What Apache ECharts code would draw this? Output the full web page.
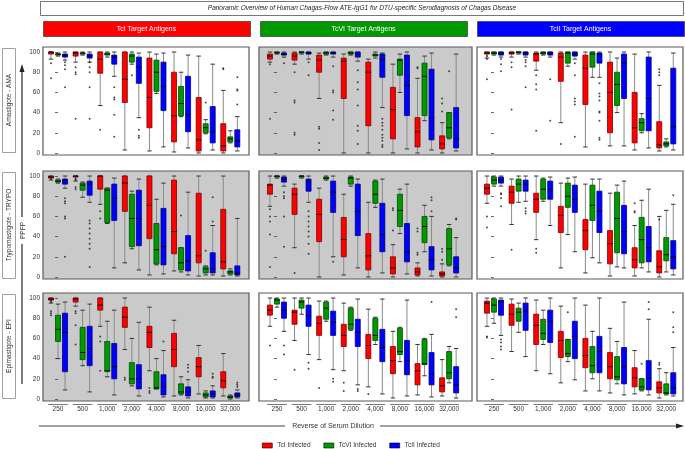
<!DOCTYPE html>
<html><head><meta charset="utf-8">
<script src="https://cdn.jsdelivr.net/npm/echarts@6/dist/echarts.min.js"></script>
<style>html,body{margin:0;padding:0;background:#fff}#c{width:685px;height:449px}</style>
</head><body><div id="c"></div>
<script>
const dilutions = ['250','500','1,000','2,000','4,000','8,000','16,000','32,000'];
const rowLabels = ['Amastigote - AMA','Trypomastigote - TRYPO','Epimastigote - EPI'];
const targetLabels = ['TcI Target Antigens','TcVI Target Antigens','TcII Target Antigens'];
const infected = ['TcI Infected','TcVI Infected','TcII Infected'];
const yTicks = [0,20,40,60,80,100];

// boxes: [min, Q1, median, Q3, max] per dilution
const ama_tcI_red   = [[93,98,100,100,100],[90,96,99,100,100],[47,79,93,100,100],[3,50,73,100,100],[2,25,55,94,100],[1,11,37,80,100],[0,2,13,55,96],[0,2,7,29,62]];
const ama_tcI_green = [[96,97,98,98,99],[97,98,99,99,100],[95,97,98,99,100],[88,90,96,98,100],[59,61,80,92,98],[36,37,49,66,80],[19,20,25,29,33],[10,11,14,16,22]];
const ama_tcI_blue  = [[92,95,97,98,100],[90,94,96,98,100],[76,88,95,97,100],[35,69,85,95,99],[6,42,66,90,99],[5,21,38,76,97],[3,10,21,46,88],[2,6,12,23,36]];
const ama_tcI_out   = [[0,0,89],[0,0,74],[2,0,90],[2,0,87],[2,0,83],[2,0,65],[0,1,85],[0,1,80],[0,1,78],[0,1,34],[2,1,90],[2,1,85],[2,1,80],[2,1,65],[2,1,34],[0,2,23],[2,2,65],[2,2,55],[2,2,53],[2,2,38],[2,2,16],[1,3,77],[2,3,23],[2,3,17],[2,3,15],[1,6,50],[0,7,84],[0,7,83],[2,7,75],[2,7,63],[2,7,62],[2,7,48]];

const ama_tcVI_red   = [[90,93,96,98,100],[88,92,96,99,100],[54,80,92,97,99],[0,54,91,94,98],[0,27,80,90,93],[0,14,43,65,88],[0,6,21,35,74],[0,4,9,17,30]];
const ama_tcVI_green = [[98,99,99,100,100],[98,99,100,100,100],[97,98,99,100,100],[97,98,99,100,100],[94,96,97,98,100],[60,77,92,93,98],[32,37,76,89,96],[14,15,25,40,40]];
const ama_tcVI_blue  = [[95,97,98,99,100],[93,98,99,100,100],[95,98,99,100,100],[91,95,98,100,100],[45,75,93,98,99],[4,37,67,97,100],[3,13,35,83,99],[2,5,14,45,98]];
const ama_tcVI_out   = [[0,0,88],[0,0,34],[2,0,89],[0,1,80],[0,1,52],[0,1,50],[0,1,20],[0,1,18],[2,1,90],[2,1,77],[0,2,26],[0,2,24],[0,2,10],[0,2,3],[2,2,86],[2,2,62],[2,2,60],[2,2,42],[2,2,33],[2,3,82],[2,3,70],[2,3,63],[2,3,47],[2,3,27],[2,3,22],[2,3,9],[2,4,34],[2,4,30],[2,4,27],[2,4,23],[2,4,18],[2,4,15],[2,4,12],[2,4,8],[2,4,6],[0,6,85],[0,6,84],[0,7,54],[0,7,49],[0,7,41],[1,7,81]];

const ama_tcII_red   = [[94,98,99,100,100],[95,98,99,100,100],[82,91,98,99,100],[30,71,95,99,100],[6,48,84,97,100],[7,20,60,90,100],[3,10,25,60,98],[2,5,8,31,67]];
const ama_tcII_green = [[97,98,99,100,100],[98,99,100,100,100],[97,98,99,100,100],[86,89,99,100,100],[75,85,98,100,100],[40,47,68,80,94],[20,22,30,34,39],[6,7,9,11,14]];
const ama_tcII_blue  = [[95,97,99,100,100],[95,97,99,100,100],[95,97,99,100,100],[93,96,98,100,100],[75,89,98,99,100],[7,54,89,98,100],[5,22,54,95,100],[3,9,26,84,99]];
const ama_tcII_out   = [[0,0,96],[0,0,93],[0,0,73],[2,0,93],[2,0,88],[2,0,81],[0,1,90],[0,1,85],[0,1,43],[2,1,92],[2,1,90],[2,1,86],[2,1,65],[0,2,77],[0,2,68],[0,2,63],[0,2,22],[2,2,73],[2,2,32],[0,3,9],[2,3,89],[2,3,77],[2,3,54],[2,3,51],[2,3,48],[2,3,16],[2,4,69],[2,4,59],[2,4,56],[2,4,52],[2,4,41],[2,4,40],[2,4,32],[2,4,15],[2,4,13],[0,7,83],[0,7,80],[0,7,77]];

const try_tcI_red   = [[96,98,99,100,100],[95,99,100,100,100],[72,87,100,100,100],[14,65,93,100,100],[2,38,71,100,100],[6,23,45,96,100],[1,14,21,83,100],[1,8,15,67,100]];
const try_tcI_green = [[93,94,95,96,97],[79,86,91,93,94],[53,54,86,88,88],[28,30,58,82,85],[12,13,27,53,77],[5,7,14,29,29],[2,4,8,10,11],[2,3,5,6,8]];
const try_tcI_blue  = [[88,92,96,97,100],[74,81,92,95,100],[9,56,78,92,98],[7,31,58,86,97],[3,12,30,68,93],[2,6,16,41,84],[2,4,8,24,51],[1,2,4,11,58]];
const try_tcI_out   = [[0,0,97],[2,0,78],[2,0,75],[2,0,73],[2,0,60],[2,0,58],[2,0,20],[0,1,97],[0,1,96],[0,1,89],[0,1,87],[2,1,56],[2,1,53],[2,1,48],[2,1,43],[2,1,38],[2,1,33],[2,1,28],[2,1,10],[0,2,65],[0,2,58],[1,5,61],[1,6,26],[2,6,79],[2,6,55]];

const try_tcVI_red   = [[70,82,91,92,100],[29,62,82,88,92],[0,35,62,77,88],[2,20,37,59,82],[0,7,21,43,74],[0,3,9,20,32],[1,2,5,9,14],[0,1,3,5,13]];
const try_tcVI_green = [[98,99,100,100,100],[98,99,100,100,100],[96,97,98,99,100],[90,92,98,99,100],[69,73,82,95,96],[43,50,66,82,87],[25,34,50,60,71],[11,12,28,48,52]];
const try_tcVI_blue  = [[90,94,97,99,100],[74,85,94,97,100],[20,64,84,95,100],[9,41,65,92,97],[4,25,42,73,97],[3,15,25,53,92],[1,7,17,30,60],[0,4,9,20,39]];
const try_tcVI_out   = [[0,0,67],[0,0,60],[0,0,55],[0,0,42],[0,0,10],[2,0,84],[2,0,80],[2,0,78],[2,0,60],[2,0,30],[0,1,4],[2,1,65],[2,1,60],[2,1,55],[2,1,50],[2,1,45],[2,1,40],[2,1,33],[2,1,23],[2,2,15],[0,5,68],[0,5,66],[0,5,46],[0,6,48],[0,6,45],[0,6,24],[0,6,22],[2,6,79],[2,6,76],[2,6,65],[0,7,28],[0,7,25],[0,7,17],[2,7,58],[2,7,57]];

const try_tcII_red   = [[73,82,88,92,100],[52,73,84,90,97],[37,64,77,83,100],[9,44,61,70,93],[4,27,46,57,92],[1,13,33,46,83],[1,9,17,29,51],[0,4,10,26,60]];
const try_tcII_green = [[90,92,96,99,100],[74,85,92,97,100],[75,77,87,97,98],[42,69,80,93,98],[19,56,71,91,97],[10,24,58,84,91],[9,14,37,59,76],[5,16,22,39,66]];
const try_tcII_blue  = [[90,93,96,99,100],[75,85,92,96,100],[51,77,87,95,99],[25,64,77,91,99],[14,44,65,85,97],[9,23,45,71,95],[5,15,29,50,87],[2,8,20,36,72]];
const try_tcII_out   = [[0,0,60],[0,0,49],[2,0,83],[2,0,82],[2,0,78],[2,0,70],[0,1,27],[2,1,68],[2,1,65],[2,1,63],[0,2,28],[0,2,24],[0,6,73],[0,6,65],[0,6,64],[0,7,57],[2,7,81]];

const epi_tcI_red   = [[95,98,99,100,100],[92,96,99,100,100],[72,88,93,100,100],[49,71,81,91,100],[28,51,66,72,91],[3,32,49,65,78],[5,22,32,41,53],[3,11,18,27,45]];
const epi_tcI_green = [[40,57,69,83,94],[33,39,46,71,88],[22,27,28,57,77],[13,15,20,36,60],[10,10,11,27,40],[4,5,7,15,22],[1,2,4,6,8],[0,1,2,3,4]];
const epi_tcI_blue  = [[9,27,66,85,96],[7,33,50,72,94],[4,20,32,55,88],[3,10,20,34,76],[2,4,12,24,48],[1,3,7,12,19],[1,2,5,8,13],[1,2,4,6,9]];
const epi_tcI_out   = [[0,0,97],[0,0,96],[0,0,87],[0,0,85],[0,0,83],[0,1,87],[0,1,85],[0,1,73],[0,1,54],[0,2,62],[0,2,57],[0,2,28],[0,3,21],[0,3,19],[0,4,11],[0,4,8],[0,4,6],[2,4,57],[2,5,34],[2,5,31],[2,5,27],[2,6,25],[2,6,22],[2,6,21],[2,7,16],[2,7,14],[2,7,12]];

const epi_tcVI_red   = [[72,83,88,93,100],[58,74,86,88,100],[39,63,75,82,97],[28,52,63,74,95],[12,40,53,64,89],[1,25,38,52,67],[4,14,28,35,54],[3,7,13,21,39]];
const epi_tcVI_green = [[91,94,98,99,100],[84,90,96,98,100],[77,79,90,96,97],[68,69,74,90,91],[54,58,63,80,81],[37,44,47,70,71],[23,34,35,59,60],[16,20,26,47,52]];
const epi_tcVI_blue  = [[67,80,88,96,100],[44,72,83,93,100],[29,63,76,87,100],[14,52,66,79,99],[5,37,51,69,99],[3,24,38,58,98],[2,14,25,46,64],[1,6,14,32,50]];
const epi_tcVI_out   = [[0,0,53],[2,0,53],[2,0,44],[0,1,29],[2,1,36],[2,1,30],[0,2,11],[2,2,20],[2,2,17],[0,3,16],[0,3,8],[2,3,10],[2,3,8],[0,4,5],[2,6,96],[2,7,89],[2,7,81]];

const epi_tcII_red   = [[72,85,95,97,100],[47,73,84,94,99],[28,54,73,84,98],[16,41,58,67,92],[8,31,43,60,93],[6,20,32,46,70],[5,12,21,31,48],[1,6,11,17,30]];
const epi_tcII_green = [[75,86,93,99,100],[66,77,86,90,95],[54,59,65,79,88],[37,42,45,59,59],[20,26,33,52,67],[15,19,22,42,57],[8,9,12,20,20],[4,5,6,15,26]];
const epi_tcII_blue  = [[63,83,96,98,100],[42,68,87,95,100],[25,56,77,88,100],[19,40,62,77,100],[8,26,47,62,100],[4,15,32,51,96],[4,9,21,38,79],[3,5,11,26,51]];
const epi_tcII_out   = [[0,0,62],[0,0,61],[2,0,59],[2,0,56],[2,0,52],[2,0,49],[1,3,86],[1,6,35],[2,6,96],[2,6,89],[0,7,36],[0,7,34],[2,7,86],[2,7,71],[2,7,66]];

const panels = [
  [ama_tcI_red, ama_tcI_green, ama_tcI_blue, ama_tcI_out],
  [ama_tcVI_red, ama_tcVI_green, ama_tcVI_blue, ama_tcVI_out],
  [ama_tcII_red, ama_tcII_green, ama_tcII_blue, ama_tcII_out],
  [try_tcI_red, try_tcI_green, try_tcI_blue, try_tcI_out],
  [try_tcVI_red, try_tcVI_green, try_tcVI_blue, try_tcVI_out],
  [try_tcII_red, try_tcII_green, try_tcII_blue, try_tcII_out],
  [epi_tcI_red, epi_tcI_green, epi_tcI_blue, epi_tcI_out],
  [epi_tcVI_red, epi_tcVI_green, epi_tcVI_blue, epi_tcVI_out],
  [epi_tcII_red, epi_tcII_green, epi_tcII_blue, epi_tcII_out]
];
const grayPanels = [1,3,4,6];

// ---------- layout / style ----------
const COLORS = ['#ff0000','#009a00','#0000ff'];
const BORDERS = ['#7a0000','#004a00','#00007a'];
const OFFS = [-0.285, 0, 0.285];
const FONT = '"Liberation Sans", Arial, sans-serif';
const colLeft = [43, 259, 477], colWidth = [206, 213, 206];
const xMin = [-0.61, -0.73, -0.69], xMax = [7.76, 7.93, 7.68];
const rowTop = [47, 171, 293], rowH = 108;
const Y_MIN = -2, Y_MAX = 105;

function boxItem(params, api) {
  const x = api.value(0);
  const s = api.value(6);
  const pMin = api.coord([x, api.value(1)]);
  const pQ1 = api.coord([x, api.value(2)]);
  const pMed = api.coord([x, api.value(3)]);
  const pQ3 = api.coord([x, api.value(4)]);
  const pMax = api.coord([x, api.value(5)]);
  const cx = pMin[0], w = 5, cw = 2.2;
  const wStyle = {stroke:'#8a8a8a', lineWidth:1};
  const capStyle = {stroke:'#333', lineWidth:1};
  return {type:'group', children:[
    {type:'line', shape:{x1:cx,y1:pQ3[1],x2:cx,y2:pMax[1]}, style:wStyle},
    {type:'line', shape:{x1:cx,y1:pQ1[1],x2:cx,y2:pMin[1]}, style:wStyle},
    {type:'line', shape:{x1:cx-cw,y1:pMax[1],x2:cx+cw,y2:pMax[1]}, style:capStyle},
    {type:'line', shape:{x1:cx-cw,y1:pMin[1],x2:cx+cw,y2:pMin[1]}, style:capStyle},
    {type:'rect', shape:{x:cx-w/2,y:pQ3[1],width:w,height:Math.max(pQ1[1]-pQ3[1],1)}, style:{fill:COLORS[s], stroke:BORDERS[s], lineWidth:0.8}},
    {type:'line', shape:{x1:cx-w/2,y1:pMed[1],x2:cx+w/2,y2:pMed[1]}, style:{stroke:'#000', lineWidth:1}}
  ]};
}

function segItem(params, api) {
  const g = api.value(0);
  const a = api.coord([g-0.4, Y_MIN]);
  const b = api.coord([g+0.4, Y_MIN]);
  return {type:'line', shape:{x1:a[0],y1:a[1]+3.5,x2:b[0],y2:b[1]+3.5}, style:{stroke:'#555', lineWidth:0.8}};
}

const grids = [], xAxes = [], yAxes = [], series = [];
for (let p = 0; p < 9; p++) {
  const r = Math.floor(p/3), c = p % 3;
  grids.push({left:colLeft[c], top:rowTop[r], width:colWidth[c], height:rowH, show:true,
    backgroundColor: grayPanels.includes(p) ? '#cacaca' : '#ffffff', borderColor:'#5a5a5a', borderWidth:1.2});
  xAxes.push({gridIndex:p, type:'value', min:xMin[c], max:xMax[c], splitLine:{show:false},
    axisLine:{show:false}, axisTick:{show:false},
    axisLabel:{show:r===2, customValues:[0,1,2,3,4,5,6,7], formatter:v=>dilutions[Math.round(v)]||'',
      fontSize:6.5, color:'#333', fontFamily:FONT, margin:5}});
  yAxes.push({gridIndex:p, type:'value', min:Y_MIN, max:Y_MAX, splitLine:{show:false},
    axisLine:{show:false},
    axisTick:{show:true, length:3, customValues:yTicks, lineStyle:{color:'#444', width:0.8}},
    axisLabel:{show:c===0, customValues:yTicks, fontSize:6.5, color:'#333', fontFamily:FONT, margin:3}});
  const pd = panels[p];
  for (let s = 0; s < 3; s++) {
    series.push({type:'custom', name:infected[s], xAxisIndex:p, yAxisIndex:p, renderItem:boxItem,
      itemStyle:{color:COLORS[s]}, silent:true,
      encode:{x:0, y:[1,2,3,4,5]},
      data: pd[s].map((b,i)=>[i+OFFS[s], b[0], b[1], b[2], b[3], b[4], s])});
  }
  series.push({type:'scatter', xAxisIndex:p, yAxisIndex:p, symbolSize:2, silent:true,
    itemStyle:{color:'#222'},
    data: pd[3].map(o=>[o[1]+OFFS[o[0]], o[2]])});
  if (r === 2) {
    series.push({type:'custom', xAxisIndex:p, yAxisIndex:p, renderItem:segItem, silent:true,
      data: dilutions.map((d,i)=>[i, 50])});
  }
}

const graphic = [
  {type:'rect', shape:{x:40.5,y:1.5,width:643,height:14}, style:{fill:'#fff', stroke:'#777', lineWidth:1}},
  {type:'text', x:362, y:8.5, style:{text:'Panoramic Overview of Human Chagas-Flow ATE-IgG1 for DTU-specific Serodiagnosis of Chagas Disease',
    fontSize:6.5, fontStyle:'italic', fill:'#222', fontFamily:FONT, align:'center', verticalAlign:'middle'}}
];
const hdrX = [43, 260, 477], hdrW = [207, 207, 207];
for (let c = 0; c < 3; c++) {
  graphic.push({type:'rect', shape:{x:hdrX[c]+0.5,y:21.5,width:hdrW[c],height:15}, style:{fill:COLORS[c], stroke:'#444', lineWidth:0.8}});
  graphic.push({type:'text', x:hdrX[c]+hdrW[c]/2, y:29, style:{text:targetLabels[c], fontSize:7, fill:'#fff', fontFamily:FONT, align:'center', verticalAlign:'middle'}});
}
const rbTop = [48, 172, 294], rbH = [104, 106, 104];
for (let r = 0; r < 3; r++) {
  graphic.push({type:'rect', shape:{x:2.5,y:rbTop[r]+0.5,width:13,height:rbH[r]}, style:{fill:'#fff', stroke:'#888', lineWidth:0.8}});
  graphic.push({type:'text', x:9, y:rbTop[r]+rbH[r]/2, rotation:Math.PI/2,
    style:{text:rowLabels[r], fontSize:6.5, fill:'#333', fontFamily:FONT, align:'center', verticalAlign:'middle'}});
}
// vertical PPFP arrow
graphic.push({type:'line', shape:{x1:22,y1:384,x2:22,y2:244}, style:{stroke:'#222', lineWidth:1.2}});
graphic.push({type:'line', shape:{x1:22,y1:217,x2:22,y2:70}, style:{stroke:'#222', lineWidth:1.2}});
graphic.push({type:'polygon', shape:{points:[[22,64],[19.5,72],[24.5,72]]}, style:{fill:'#222'}});
graphic.push({type:'text', x:23, y:230.5, rotation:Math.PI/2, style:{text:'PPFP', fontSize:6.5, fill:'#333', fontFamily:FONT, align:'center', verticalAlign:'middle'}});
// horizontal arrow
graphic.push({type:'line', shape:{x1:39,y1:426,x2:285,y2:426}, style:{stroke:'#444', lineWidth:1.2}});
graphic.push({type:'line', shape:{x1:380,y1:426,x2:677,y2:426}, style:{stroke:'#444', lineWidth:1.2}});
graphic.push({type:'polygon', shape:{points:[[684,426],[676,423.5],[676,428.5]]}, style:{fill:'#222'}});
graphic.push({type:'text', x:333, y:426, style:{text:'Reverse of Serum Dilution', fontSize:7, fill:'#333', fontFamily:FONT, align:'center', verticalAlign:'middle'}});

const option = {
  animation:false,
  grid:grids, xAxis:xAxes, yAxis:yAxes, series:series, graphic:graphic,
  legend:{data:infected, left:257, top:437, icon:'rect', itemWidth:10, itemHeight:5, itemGap:13,
    itemStyle:{borderColor:'#000', borderWidth:0.6},
    textStyle:{fontSize:6.5, color:'#333', fontFamily:FONT}, selectedMode:false}
};
const chart = echarts.init(document.getElementById('c'), null, {renderer:'canvas'});
chart.setOption(option);
</script></body></html>
